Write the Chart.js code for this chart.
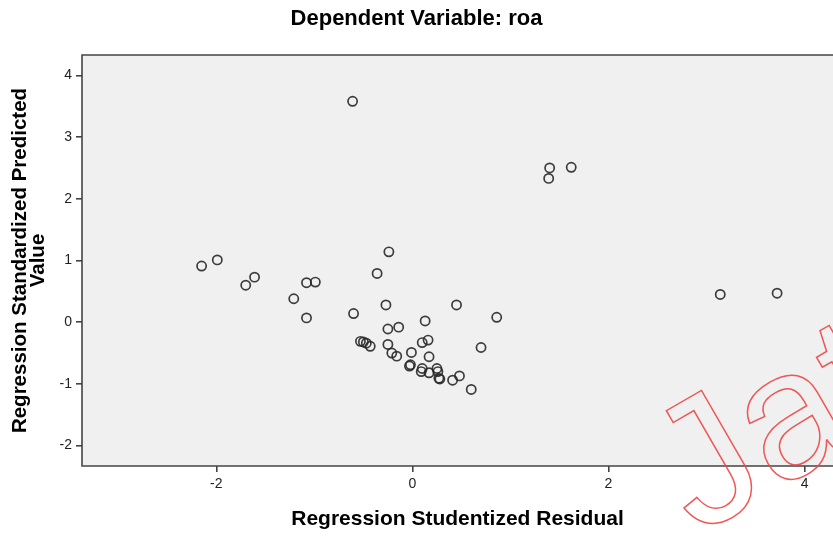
<!DOCTYPE html>
<html>
<head>
<meta charset="utf-8">
<script src="https://cdn.jsdelivr.net/npm/chart.js@4.4.0/dist/chart.umd.min.js"></script>
<style>
  html, body { margin: 0; padding: 0; background: #fff; }
</style>
</head>
<body>
<canvas id="chartScatter" width="833" height="537"></canvas>
<script>
// residuals (x) and predicted values (y)
const residuals = [
  -2.15, -1.99, -1.70, -1.61, -1.08, -0.99, -1.21, -1.08, -0.36, -0.60,
  -0.61, -0.24, -0.27, -0.53, -0.50, -0.47, -0.43, -0.25, -0.14, -0.25,
  -0.21, -0.16, -0.01, -0.02, -0.03, 0.13, 0.10, 0.16, 0.17, 0.10,
  0.09, 0.17, 0.25, 0.26, 0.27, 0.28, 0.41, 0.48, 0.60, 0.45,
  0.86, 0.70, 1.40, 1.39, 1.62, 3.14, 3.72
];
const predicted = [
  0.91, 1.01, 0.60, 0.73, 0.64, 0.65, 0.38, 0.07, 0.79, 0.14,
  3.58, 1.14, 0.28, -0.31, -0.32, -0.34, -0.39, -0.11, -0.08, -0.36,
  -0.50, -0.55, -0.49, -0.69, -0.71, 0.02, -0.33, -0.29, -0.56, -0.75,
  -0.80, -0.82, -0.75, -0.80, -0.91, -0.92, -0.94, -0.87, -1.09, 0.28,
  0.08, -0.41, 2.50, 2.33, 2.51, 0.45, 0.47
];
const xTicks = [-2, 0, 2, 4];
const yTicks = [-2, -1, 0, 1, 2, 3, 4];

const chartTitle = 'Dependent Variable: roa';
const xTitle = 'Regression Studentized Residual';
const yTitle = ['Regression Standardized Predicted', 'Value'];

const fontFamily = "'Liberation Sans', Arial, sans-serif";

const points = residuals.map((x, i) => ({ x: x, y: predicted[i] }));

// grey plot background and frame
const plotFrame = {
  id: 'plotFrame',
  beforeDatasetsDraw(chart) {
    const { ctx, chartArea: a } = chart;
    ctx.save();
    ctx.fillStyle = '#f0f0f0';
    ctx.fillRect(a.left, a.top, a.right - a.left, a.bottom - a.top);
    ctx.strokeStyle = '#444';
    ctx.lineWidth = 1.6;
    ctx.beginPath();
    ctx.moveTo(a.right + 2, a.top);
    ctx.lineTo(a.left, a.top);
    ctx.lineTo(a.left, a.bottom);
    ctx.lineTo(a.right + 2, a.bottom);
    ctx.stroke();
    ctx.restore();
  }
};

// red outlined watermark
const watermark = {
  id: 'watermark',
  afterDraw(chart) {
    const ctx = chart.ctx;
    ctx.save();
    ctx.translate(697, 536);
    ctx.rotate(-Math.PI / 6);
    ctx.font = '180px ' + fontFamily;
    ctx.strokeStyle = 'rgba(238, 70, 70, 0.9)';
    ctx.lineWidth = 1.5;
    ctx.strokeText('Jat', 0, 0);
    ctx.restore();
  }
};

const configScatter = {
  type: 'scatter',
  data: {
    datasets: [{
      data: points,
      pointStyle: 'circle',
      pointRadius: 4.6,
      pointBorderWidth: 1.7,
      pointBorderColor: 'rgba(40,40,40,0.9)',
      pointBackgroundColor: 'rgba(0,0,0,0)'
    }]
  },
  options: {
    responsive: false,
    animation: false,
    layout: { autoPadding: false, padding: 0 },
    plugins: {
      legend: { display: false },
      tooltip: { enabled: false },
      title: {
        display: true,
        text: chartTitle,
        color: '#000',
        font: { family: fontFamily, size: 22, weight: 'bold', lineHeight: 1.2 },
        padding: { top: 6, bottom: 22.6 }
      }
    },
    scales: {
      x: {
        type: 'linear',
        min: -3.37,
        max: 4.29,
        afterBuildTicks: s => { s.ticks = xTicks.map(v => ({ value: v })); },
        afterFit: s => { s.height = 71; },
        border: { display: false },
        grid: { display: true, drawOnChartArea: false, drawTicks: true, tickLength: 6, color: '#444', lineWidth: 1.6 },
        ticks: { color: '#222', padding: 4, font: { family: fontFamily, size: 14 } },
        title: {
          display: true,
          text: xTitle,
          color: '#000',
          font: { family: fontFamily, size: 21, weight: 'bold', lineHeight: 1.2 },
          padding: { top: 0, bottom: 5.5 }
        }
      },
      y: {
        type: 'linear',
        min: -2.33,
        max: 4.33,
        afterBuildTicks: s => { s.ticks = yTicks.map(v => ({ value: v })); },
        afterFit: s => { s.width = 82; },
        border: { display: false },
        grid: { display: true, drawOnChartArea: false, drawTicks: true, tickLength: 6, color: '#444', lineWidth: 1.6 },
        ticks: { color: '#222', padding: 4, font: { family: fontFamily, size: 14 } },
        title: {
          display: true,
          text: yTitle,
          color: '#000',
          font: { family: fontFamily, size: 20.5, weight: 'bold', lineHeight: 0.9 },
          padding: { top: 10.8, bottom: 0 }
        }
      }
    }
  },
  plugins: [plotFrame, watermark]
};

const chartScatter = new Chart(document.getElementById('chartScatter'), configScatter);
</script>
</body>
</html>
